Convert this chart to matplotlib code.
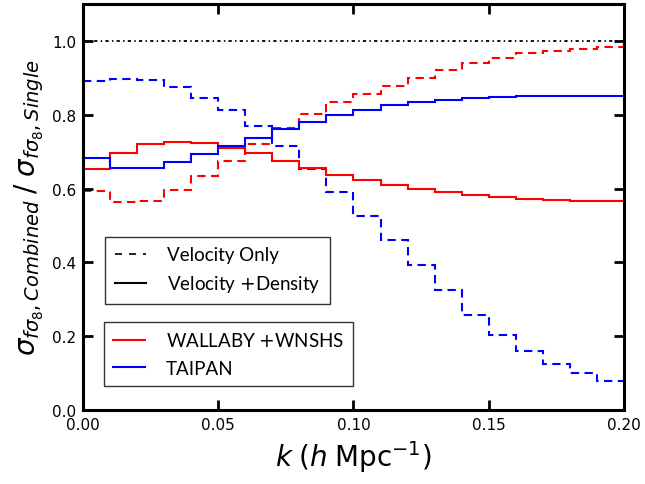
import matplotlib
matplotlib.use('Agg')
import matplotlib.pyplot as plt
import numpy as np
from matplotlib.lines import Line2D

# bin edges in k (h/Mpc)
k_edges = np.arange(0.0, 0.2001, 0.01)

# WALLABY+WNSHS
wallaby_vel = [0.594, 0.565, 0.567, 0.595, 0.633, 0.675, 0.720, 0.765, 0.802, 0.834,
               0.856, 0.877, 0.899, 0.920, 0.940, 0.954, 0.966, 0.973, 0.978, 0.982]
wallaby_comb = [0.653, 0.696, 0.721, 0.727, 0.724, 0.711, 0.696, 0.676, 0.655, 0.638,
                0.622, 0.611, 0.598, 0.590, 0.583, 0.576, 0.573, 0.570, 0.567, 0.567]

# TAIPAN
taipan_vel = [0.891, 0.897, 0.893, 0.874, 0.846, 0.814, 0.770, 0.716, 0.653, 0.590,
              0.526, 0.461, 0.393, 0.325, 0.258, 0.203, 0.160, 0.126, 0.100, 0.079]
taipan_comb = [0.684, 0.655, 0.657, 0.673, 0.694, 0.715, 0.738, 0.761, 0.781, 0.799,
               0.814, 0.825, 0.834, 0.841, 0.846, 0.849, 0.850, 0.851, 0.851, 0.850]

fig = plt.figure(figsize=(6.45, 4.85), dpi=100)
ax = fig.add_axes([0.1287, 0.152, 0.8387, 0.838])

ax.axhline(1.0, color='k', lw=1.3, linestyle=(0, (1.8, 1.8, 0.8, 1.8)))

ax.stairs(wallaby_vel, k_edges, baseline=None, color='red', lw=1.5, linestyle=(0, (4, 2.6)))
ax.stairs(taipan_vel, k_edges, baseline=None, color='blue', lw=1.5, linestyle=(0, (4, 2.6)))
ax.stairs(wallaby_comb, k_edges, baseline=None, color='red', lw=1.5)
ax.stairs(taipan_comb, k_edges, baseline=None, color='blue', lw=1.5)

ax.set_xlim(0, 0.2)
ax.set_ylim(0, 1.1)
ax.set_xticks([0.0, 0.05, 0.10, 0.15, 0.20])
ax.set_xticklabels(['0.00', '0.05', '0.10', '0.15', '0.20'])
ax.set_yticks([0.0, 0.2, 0.4, 0.6, 0.8, 1.0])
ax.tick_params(direction='in', length=7, width=2, labelsize=11, right=True, top=True, pad=5)
for s in ax.spines.values():
    s.set_linewidth(2.2)

ax.set_xlabel(r'$k\;(h\;\mathrm{Mpc}^{-1})$', fontsize=20)
ax.set_ylabel(r'$\sigma_{f\sigma_8,Combined}\;/\;\sigma_{f\sigma_8,Single}$', fontsize=20)

lfont = {'family': 'Lato', 'size': 13.5}
h1 = [Line2D([], [], color='k', lw=1.2, linestyle=(0, (4.2, 4.2))),
      Line2D([], [], color='k', lw=1.5)]
leg1 = ax.legend(h1, ['Velocity Only', 'Velocity $+$Density'], loc='upper left',
                 bbox_to_anchor=(0.041, 0.427), borderaxespad=0, prop=lfont,
                 fancybox=False, edgecolor='k', handlelength=1.7, handletextpad=1.1,
                 labelspacing=0.55, borderpad=0.5)
leg1.get_frame().set_linewidth(1.0)
ax.add_artist(leg1)

h2 = [Line2D([], [], color='red', lw=1.5), Line2D([], [], color='blue', lw=1.5)]
leg2 = ax.legend(h2, ['WALLABY $+$WNSHS', 'TAIPAN'], loc='upper left',
                 bbox_to_anchor=(0.039, 0.217), borderaxespad=0, prop=lfont,
                 fancybox=False, edgecolor='k', handlelength=1.7, handletextpad=1.1,
                 labelspacing=0.55, borderpad=0.5)
leg2.get_frame().set_linewidth(1.0)

plt.savefig('out.png', dpi=100)
